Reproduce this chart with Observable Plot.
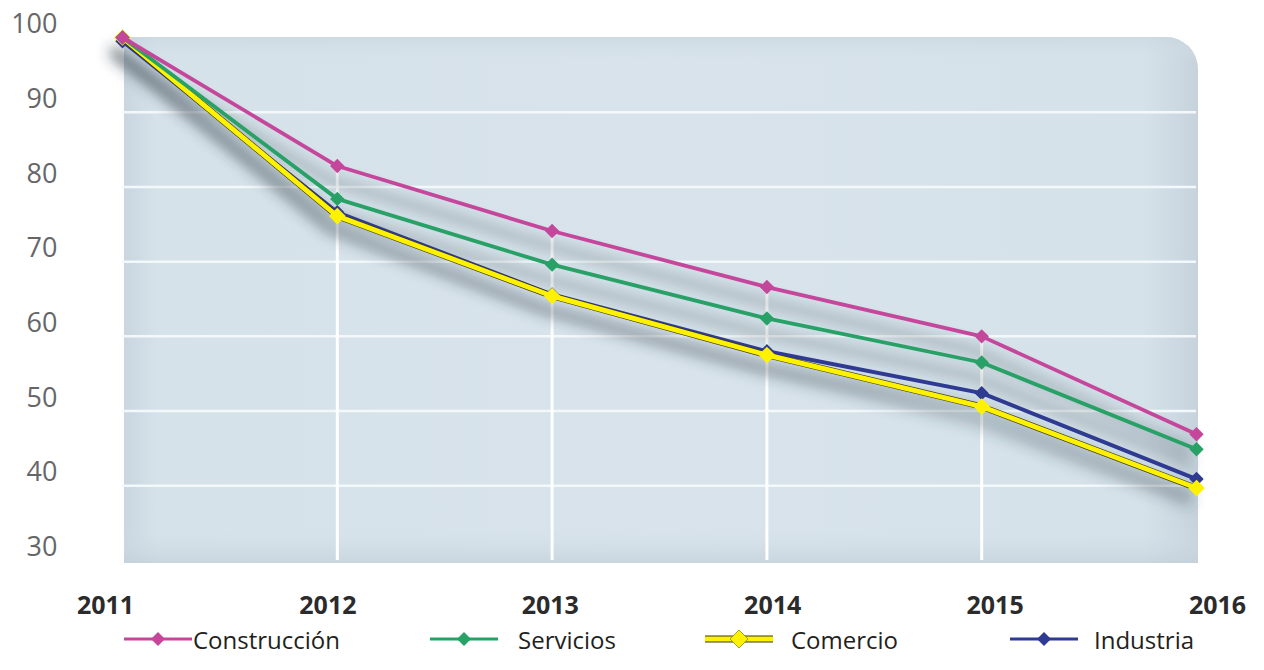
<!DOCTYPE html>
<html><head><meta charset="utf-8">
<script src="https://cdn.jsdelivr.net/npm/d3@7"></script>
<script src="https://cdn.jsdelivr.net/npm/@observablehq/plot@0.6"></script>
<style>
body{margin:0;background:#fff;font-family:"Open Sans",sans-serif;}
#wrap{position:relative;width:1264px;height:670px;}
#legend{position:absolute;left:0;top:622px;width:1264px;height:34px;}
.item{position:absolute;top:0;height:34px;display:flex;align-items:center;font-family:"Open Sans",sans-serif;font-size:24px;color:#231f20;}
.item svg{display:block;}
</style></head><body><div id="wrap"><div id="chart"></div><div id="xlabels"></div><div id="legend"></div></div>
<script>
const years = [2011, 2012, 2013, 2014, 2015, 2016];
const construccion = [100, 82.8, 74.1, 66.6, 60.0, 46.9];
const servicios    = [100, 78.4, 69.6, 62.4, 56.5, 44.9];
const comercio     = [100, 76.1, 65.4, 57.5, 50.6, 39.7];
const industria    = [99.5, 76.6, 65.6, 58.0, 52.4, 40.9];
const seriesNames  = ["Construcción", "Servicios", "Comercio", "Industria"];
const seriesColors = ["#c5479b", "#27a166", "#fff200", "#2f3a92"];
const yTicks = [30, 40, 50, 60, 70, 80, 90, 100];
const gridTicks = [40, 50, 60, 70, 80, 90];

const seriesValues = [construccion, servicios, comercio, industria];
const rows = [];
seriesNames.forEach((s, i) => years.forEach((y, j) => rows.push({series: s, year: y, value: seriesValues[i][j]})));
const topByYear = years.map((y, j) => ({year: y, top: d3.max(seriesValues, v => v[j])}));

// background panel with rounded top-right corner, derived from scales
function panel(index, scales) {
  const g = d3.create("svg:g");
  const defs = g.append("defs");
  const lg = defs.append("linearGradient").attr("id", "bgGrad").attr("x1", 0).attr("x2", 1).attr("y1", 0).attr("y2", 0);
  [[0, "#c9d6df"], [0.03, "#d6e2ea"], [0.5, "#d8e3eb"], [0.95, "#d6e2ea"], [1, "#c6d3dc"]]
    .forEach(([o, c]) => lg.append("stop").attr("offset", o).attr("stop-color", c));
  const lg2 = defs.append("linearGradient").attr("id", "bgGrad2").attr("x1", 0).attr("x2", 0).attr("y1", 0).attr("y2", 1);
  [[0, "#c8d5de", 0.6], [0.05, "#d6e2ea", 0], [0.93, "#d6e2ea", 0], [1, "#c3d0d9", 0.7]]
    .forEach(([o, c, a]) => lg2.append("stop").attr("offset", o).attr("stop-color", c).attr("stop-opacity", a));
  const f = defs.append("filter").attr("id", "blurShadow").attr("filterUnits", "userSpaceOnUse")
    .attr("x", 0).attr("y", 0).attr("width", 1264).attr("height", 600);
  f.append("feGaussianBlur").attr("stdDeviation", 7);
  const x1 = scales.x(2011) + 2, x2 = scales.x(2016) + 2;
  const y1 = scales.y(100), y2 = scales.y(30) + 3, r = 32;
  const d = `M${x1},${y1}H${x2 - r}A${r},${r} 0 0 1 ${x2},${y1 + r}V${y2}H${x1}Z`;
  g.append("path").attr("d", d).attr("fill", "url(#bgGrad)");
  g.append("path").attr("d", d).attr("fill", "url(#bgGrad2)");
  return g.node();
}

const order = ["Industria", "Comercio", "Servicios", "Construcción"];
const widths = {"Construcción": 3.8, "Servicios": 3.8, "Comercio": 5, "Industria": 4};
const color = s => seriesColors[seriesNames.indexOf(s)];

const marks = [
  panel,
  Plot.ruleY(gridTicks, {stroke: "#f3f8fb", strokeWidth: 2.5}),
  Plot.ruleX(topByYear.filter(d => d.year > 2011 && d.year < 2016), {x: "year", y1: 30, y2: "top", stroke: "#ffffff", strokeWidth: 3}),
  Plot.line(rows, {x: "year", y: "value", z: "series", stroke: "#2e3a44", strokeOpacity: 0.32, strokeWidth: 9, dx: -8, dy: 14})
];
const SHADOW_INDEX = 3;
for (const s of order) {
  const data = rows.filter(d => d.series === s);
  if (s === "Comercio") {
    marks.push(Plot.line(data, {x: "year", y: "value", stroke: "#3b3b1a", strokeWidth: widths[s] + 1.2}));
  }
  marks.push(Plot.line(data, {x: "year", y: "value", stroke: color(s), strokeWidth: widths[s]}));
  marks.push(Plot.dot(data, {x: "year", y: "value", symbol: "diamond2", r: s === "Comercio" ? 7.5 : 6.5, fill: color(s)}));
}
marks.push(Plot.axisY(yTicks, {tickSize: 0, tickPadding: 65, dy: -13, fontSize: 27, fill: "#666668", tickFormat: d => String(d)}));

const chart = Plot.plot({
  width: 1264, height: 582,
  marginLeft: 122, marginRight: 68, marginTop: 37, marginBottom: 22,
  x: {domain: [2011, 2016], axis: null},
  y: {domain: [30, 100], axis: null},
  style: {fontFamily: "'Open Sans', sans-serif", background: "transparent", overflow: "visible"},
  marks
});
const groups = chart.querySelectorAll(":scope > g");
if (groups[SHADOW_INDEX]) groups[SHADOW_INDEX].setAttribute("filter", "url(#blurShadow)");
document.getElementById("chart").appendChild(chart);

// year labels (evenly spread below the panel)
const xl = Plot.plot({
  width: 1264, height: 46,
  marginLeft: 105, marginRight: 47, marginTop: 0, marginBottom: 0,
  x: {domain: [2011, 2016], axis: null},
  style: {fontFamily: "'Open Sans', sans-serif", background: "transparent", display: "block"},
  marks: [Plot.text(years, {x: d => d, text: d => String(d), frameAnchor: "middle", fontSize: 25, fontWeight: "bold", fill: "#2b2b2b"})]
});
document.getElementById("xlabels").appendChild(xl);

// legend
const legendLeft = [124, 430, 705, 1010];
const legendGap = [1, 20, 18, 16];
const legend = d3.select("#legend");
seriesNames.forEach((s, i) => {
  const item = legend.append("div").attr("class", "item").style("left", legendLeft[i] + "px");
  const sv = item.append("svg").attr("width", 68).attr("height", 20).style("margin-right", legendGap[i] + "px");
  if (s === "Comercio") {
    sv.append("line").attr("x1", 0).attr("x2", 68).attr("y1", 10).attr("y2", 10).attr("stroke", "#3b3b1a").attr("stroke-width", 7);
  }
  sv.append("line").attr("x1", 0).attr("x2", 68).attr("y1", 10).attr("y2", 10).attr("stroke", seriesColors[i]).attr("stroke-width", s === "Comercio" ? 5 : 3);
  const rr = s === "Comercio" ? 9 : 7;
  sv.append("path").attr("d", `M34,${10 - rr}L${34 + rr},10L34,${10 + rr}L${34 - rr},10Z`).attr("fill", seriesColors[i]).attr("stroke", s === "Comercio" ? "#8a8420" : "none").attr("stroke-width", 0.8);
  item.append("span").text(s);
});
</script></body></html>
